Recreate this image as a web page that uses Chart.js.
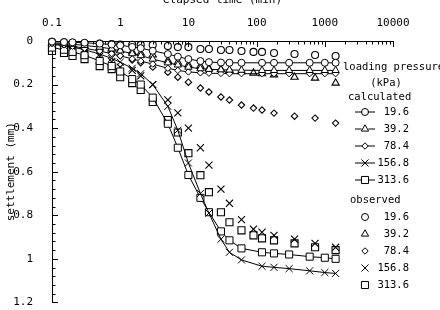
<!DOCTYPE html>
<html><head><meta charset="utf-8">
<script src="https://cdn.jsdelivr.net/npm/chart.js@4"></script>
<style>
html,body{margin:0;padding:0;background:#fff;overflow:hidden;width:440px;height:310px}
#wrap{position:absolute;left:0;top:-8px;width:440px;height:328px}
</style>
</head><body>
<div id="wrap"><canvas id="c" width="440" height="328"></canvas></div>
<script>
// ---- data ----
const pressures = ['19.6', '39.2', '78.4', '156.8', '313.6'];
const obsTimes = [0.1, 0.15, 0.2, 0.3, 0.5, 0.75, 1, 1.5, 2, 3, 5, 7, 10, 15, 20, 30, 40, 60, 90, 120, 180, 360, 720, 1440];
const obs19_6  = [0.004,0.006,0.008,0.010,0.012,0.014,0.016,0.017,0.018,0.018,0.023,0.028,0.028,0.037,0.037,0.041,0.041,0.046,0.050,0.050,0.055,0.060,0.064,0.069];
const obs39_2  = [0.010,0.015,0.020,0.025,0.030,0.036,0.042,0.050,0.056,0.064,0.090,0.097,0.110,0.115,0.125,0.130,0.135,0.140,0.147,0.150,0.155,0.166,0.170,0.193];
const obs78_4  = [0.015,0.020,0.025,0.032,0.045,0.055,0.068,0.087,0.100,0.120,0.143,0.166,0.189,0.216,0.234,0.257,0.271,0.294,0.308,0.317,0.331,0.345,0.354,0.377];
const obs156_8 = [0.020,0.030,0.040,0.050,0.070,0.095,0.120,0.135,0.160,0.200,0.270,0.330,0.400,0.490,0.570,0.680,0.745,0.820,0.864,0.878,0.892,0.910,0.929,0.947];
const obs313_6 = [0.046,0.055,0.069,0.083,0.115,0.129,0.166,0.193,0.225,0.280,0.363,0.420,0.515,0.616,0.694,0.786,0.832,0.869,0.892,0.906,0.915,0.929,0.947,0.960];
const calcTimes = [0.1, 0.15, 0.2, 0.3, 0.5, 0.75, 1, 1.5, 2, 3, 5, 7, 10, 15, 20, 30, 40, 60, 120, 180, 300, 600, 1000, 1440];
const calc19_6  = [0.003,0.005,0.006,0.008,0.012,0.016,0.020,0.027,0.033,0.045,0.060,0.072,0.083,0.092,0.097,0.099,0.100,0.100,0.100,0.100,0.100,0.100,0.100,0.100];
const calc39_2  = [0.008,0.012,0.015,0.020,0.028,0.036,0.045,0.058,0.067,0.083,0.100,0.110,0.120,0.127,0.130,0.132,0.133,0.134,0.135,0.135,0.135,0.135,0.135,0.135];
const calc78_4  = [0.012,0.018,0.024,0.033,0.046,0.058,0.068,0.082,0.092,0.106,0.125,0.135,0.142,0.146,0.148,0.149,0.150,0.150,0.150,0.150,0.150,0.150,0.150,0.150];
const calc156_8 = [0.015,0.022,0.028,0.040,0.060,0.080,0.097,0.125,0.150,0.200,0.300,0.410,0.560,0.700,0.790,0.910,0.970,1.005,1.034,1.039,1.045,1.055,1.063,1.067];
const calc313_6 = [0.030,0.040,0.050,0.065,0.092,0.115,0.140,0.175,0.200,0.260,0.380,0.490,0.615,0.720,0.786,0.874,0.915,0.952,0.970,0.975,0.980,0.990,0.995,1.000];
const xTickValues = [0.1, 1, 10, 100, 1000, 10000];
const xTickLabels = ['0.1', '1', '10', '100', '1000', '10000'];
const yTickValues = [0, 0.2, 0.4, 0.6, 0.8, 1.0, 1.2];
const yTickLabels = ['0', '0.2', '0.4', '0.6', '0.8', '1', '1.2'];

// ---- styling ----
const FONT = "'DejaVu Sans Mono', monospace";
Chart.defaults.font.family = FONT;
Chart.defaults.font.size = 10.5;
Chart.defaults.color = '#000';

const styles = ['circle', 'triangle', 'rectRot', 'crossRot', 'rect'];
const radii  = [3.5, 4.2, 3.2, 5, 5];
const obsSeries  = [obs19_6, obs39_2, obs78_4, obs156_8, obs313_6];
const calcSeries = [calc19_6, calc39_2, calc78_4, calc156_8, calc313_6];

const datasets = [];
calcSeries.forEach((s, i) => datasets.push({
  label: 'calculated ' + pressures[i],
  data: calcTimes.map((t, k) => ({x: t, y: s[k]})),
  showLine: true, borderColor: '#000', borderWidth: 1,
  pointStyle: styles[i], pointRadius: radii[i], pointBorderColor: '#000',
  pointBackgroundColor: '#fff', pointBorderWidth: 1, tension: 0, clip: false
}));
obsSeries.forEach((s, i) => datasets.push({
  label: 'observed ' + pressures[i],
  data: obsTimes.map((t, k) => ({x: t, y: s[k]})),
  showLine: false, borderColor: '#000',
  pointStyle: styles[i], pointRadius: radii[i], pointBorderColor: '#000',
  pointBackgroundColor: 'rgba(0,0,0,0)', pointBorderWidth: 1.1, clip: false
}));

function marker(ctx, style, x, y, r) {
  ctx.beginPath();
  if (style === 'circle') { ctx.arc(x, y, r, 0, Math.PI * 2); }
  else if (style === 'triangle') {
    ctx.moveTo(x, y - r); ctx.lineTo(x - r * 0.866, y + r * 0.5); ctx.lineTo(x + r * 0.866, y + r * 0.5); ctx.closePath();
  } else if (style === 'rectRot') {
    ctx.moveTo(x, y - r); ctx.lineTo(x + r, y); ctx.lineTo(x, y + r); ctx.lineTo(x - r, y); ctx.closePath();
  } else if (style === 'crossRot') {
    const d = r * Math.SQRT1_2;
    ctx.moveTo(x - d, y - d); ctx.lineTo(x + d, y + d); ctx.moveTo(x + d, y - d); ctx.lineTo(x - d, y + d);
  } else if (style === 'rect') {
    const d = r * Math.SQRT1_2; ctx.rect(x - d, y - d, 2 * d, 2 * d);
  }
  ctx.stroke();
}

const tickPlugin = {
  id: 'insideTicks',
  beforeDatasetsDraw(chart) {
    const {ctx, scales: {x, y}, chartArea: a} = chart;
    ctx.save(); ctx.strokeStyle = '#000'; ctx.lineWidth = 1; ctx.beginPath();
    for (let e = -1; e <= 4; e++) {
      for (let m = 1; m <= 9; m++) {
        const v = m * Math.pow(10, e);
        if (v > 10000.5) break;
        const px = Math.round(x.getPixelForValue(v)) + 0.5;
        const len = m === 1 ? 6 : 3.5;
        ctx.moveTo(px, a.top); ctx.lineTo(px, a.top + len);
      }
    }
    for (let i = 0; i <= 30; i++) {
      const py = Math.round(y.getPixelForValue(i * 0.04)) + 0.5;
      const len = (i % 5 === 0) ? 6 : 3.5;
      ctx.moveTo(a.left, py); ctx.lineTo(a.left + len, py);
    }
    ctx.stroke(); ctx.restore();
  }
};

const OFF = 8; // canvas shifted up by 8px
const legendPlugin = {
  id: 'customLegend',
  afterDraw(chart) {
    const ctx = chart.ctx;
    ctx.save();
    ctx.fillStyle = '#000'; ctx.strokeStyle = '#000';
    ctx.font = '10.5px ' + FONT;
    ctx.textBaseline = 'middle';
    ctx.textAlign = 'left';
    ctx.fillText('loading pressure', 343, 67 + OFF);
    ctx.textAlign = 'center';
    ctx.fillText('(kPa)', 386, 83 + OFF);
    ctx.textAlign = 'left';
    ctx.fillText('calculated', 348, 97 + OFF);
    ctx.fillText('observed', 350, 200 + OFF);
    const calcY = [112, 129, 146, 163, 180];
    const obsY = [217, 234, 251, 268, 285];
    pressures.forEach((p, i) => {
      const cy = calcY[i] + OFF, oy = obsY[i] + OFF;
      ctx.lineWidth = 1;
      ctx.beginPath(); ctx.moveTo(355, cy); ctx.lineTo(375, cy); ctx.stroke();
      const r = radii[i];
      if (styles[i] !== 'crossRot') {
        ctx.save(); ctx.fillStyle = '#fff';
        ctx.fillRect(365 - r * 0.8, cy - r * 0.8, r * 1.6, r * 1.6);
        ctx.restore();
      }
      marker(ctx, styles[i], 365, cy, r);
      marker(ctx, styles[i], 365, oy, r);
      ctx.fillStyle = '#000';
      ctx.textAlign = 'right';
      ctx.fillText(p, 409, cy);
      ctx.fillText(p, 409, oy);
    });
    ctx.restore();
  }
};

new Chart(document.getElementById('c'), {
  type: 'scatter',
  data: { datasets },
  options: {
    responsive: false, animation: false, devicePixelRatio: 1,
    layout: { padding: { left: 0, right: 47, top: 0, bottom: 8 } },
    plugins: { legend: { display: false }, tooltip: { enabled: false } },
    scales: {
      x: {
        type: 'logarithmic', position: 'top', min: 0.1, max: 10000,
        grid: { display: false },
        border: { display: true, color: '#000', width: 1 },
        afterBuildTicks: s => { s.ticks = xTickValues.map(v => ({ value: v })); },
        afterFit: s => { s.height = 41 + OFF; },
        ticks: {
          autoSkip: false, maxRotation: 0, padding: 3, font: { size: 11 },
          callback: (v) => { const i = xTickValues.findIndex(t => Math.abs(t - v) < 1e-9 * Math.max(1, t)); return i >= 0 ? xTickLabels[i] : ''; }
        },
        title: { display: true, text: 'elapsed time (min)', font: { size: 11 }, padding: { top: 2, bottom: 0 } }
      },
      y: {
        type: 'linear', reverse: true, min: 0, max: 1.2,
        grid: { display: false },
        border: { display: true, color: '#000', width: 1 },
        afterBuildTicks: s => { s.ticks = yTickValues.map(v => ({ value: v })); },
        afterFit: s => { s.width = 52; },
        ticks: {
          autoSkip: false, padding: 11, font: { size: 11 },
          callback: (v) => { const i = yTickValues.findIndex(t => Math.abs(t - v) < 1e-6); return i >= 0 ? yTickLabels[i] : ''; }
        },
        title: { display: true, text: 'settlement (mm)', font: { size: 11 }, padding: { top: 5, bottom: 0 } }
      }
    }
  },
  plugins: [tickPlugin, legendPlugin]
});
</script>
</body></html>
